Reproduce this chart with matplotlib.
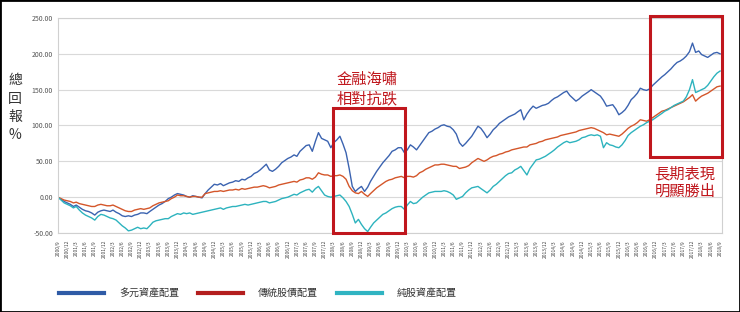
import pandas as pd
import matplotlib
matplotlib.use('Agg')
import matplotlib.pyplot as plt
import matplotlib.dates as mdates
from matplotlib.lines import Line2D
from matplotlib.patches import Rectangle

plt.rcParams['font.family'] = ['Noto Sans CJK TC', 'DejaVu Sans']

# monthly total return (%), 2000/9 .. 2018/9
dates = pd.date_range('2000-09-01', '2018-09-01', freq='MS')

multi = [
    0, -3, -6, -8,                                            # 2000
    -10, -13, -11, -14, -17, -19, -20, -22, -25, -21, -19, -18,  # 2001
    -19, -20, -18, -21, -23, -26, -27, -26, -27, -25, -24, -22,  # 2002
    -22, -23, -20, -17, -14, -11, -9, -6, -2, 0, 3, 5,           # 2003
    4, 3, 1, 0, 2, 1, 0, -1, 5, 10, 14, 18,                      # 2004
    17, 19, 16, 18, 20, 21, 23, 22, 25, 24, 27, 29,              # 2005
    33, 35, 38, 42, 46, 38, 36, 39, 43, 48, 51, 54,              # 2006
    56, 59, 57, 64, 68, 72, 73, 64, 78, 90, 82, 80,              # 2007
    78, 69, 76, 80, 85, 74, 62, 40, 15, 8, 12, 15,               # 2008
    8, 14, 22, 29, 36, 42, 48, 53, 58, 64, 66, 69,               # 2009
    69, 62, 66, 73, 70, 66, 72, 78, 84, 90, 92, 95,              # 2010
    97, 100, 101, 99, 98, 94, 88, 76, 71, 75, 80, 85,            # 2011
    92, 99, 96, 90, 83, 88, 94, 98, 103, 106, 109, 112,          # 2012
    114, 116, 119, 122, 108, 116, 122, 127, 124, 126, 128, 129,  # 2013
    131, 135, 138, 140, 143, 146, 148, 142, 138, 134, 137, 141,  # 2014
    144, 147, 150, 147, 144, 141, 135, 127, 128, 129, 123, 115,  # 2015
    118, 122, 128, 136, 140, 145, 152, 150, 149, 151, 156, 160,  # 2016
    164, 168, 171, 175, 179, 184, 188, 190, 193, 197, 203, 215,  # 2017
    202, 204, 199, 197, 195, 198, 201, 202, 200,                 # 2018
]

balanced = [
    0, -2, -4, -5,
    -6, -8, -7, -9, -10, -11, -12, -13, -13, -11, -10, -11,
    -12, -12, -11, -13, -15, -17, -19, -20, -20, -18, -17, -16,
    -17, -16, -15, -12, -10, -8, -7, -6, -5, -2, 0, 3,
    2, 2, 1, 0, 1, 1, 0, 0, 5, 6, 7, 8,
    8, 9, 8, 9, 10, 10, 11, 10, 12, 11, 12, 13,
    14, 14, 15, 16, 15, 13, 14, 15, 17, 18, 19, 20,
    21, 22, 21, 24, 25, 27, 27, 25, 28, 34, 32, 31,
    31, 29, 30, 30, 31, 29, 25, 15, 9, 6, 5, 8,
    4, 1, 5, 9, 13, 16, 19, 22, 24, 25, 27, 28,
    29, 27, 29, 29, 28, 30, 34, 36, 39, 41, 43, 45,
    45, 46, 46, 45, 44, 43, 43, 40, 41, 42, 44, 48,
    51, 54, 52, 50, 52, 55, 57, 58, 60, 61, 63, 64,
    66, 67, 68, 69, 70, 70, 73, 74, 75, 77, 78, 80,
    81, 82, 83, 84, 86, 87, 88, 89, 90, 91, 93, 94,
    95, 96, 97, 96, 94, 92, 90, 87, 88, 87, 86, 85,
    88, 92, 96, 99, 101, 104, 108, 107, 106, 108, 111, 114,
    117, 120, 121, 123, 125, 127, 129, 131, 133, 136, 139, 143,
    134, 138, 141, 143, 145, 148, 151, 154, 155,
]

equity = [
    0, -4, -8, -10,
    -12, -15, -13, -18, -22, -25, -27, -29, -32, -27, -24, -25,
    -27, -29, -30, -32, -36, -40, -43, -47, -46, -44, -42, -44,
    -43, -44, -40, -35, -33, -32, -31, -30, -30, -27, -25, -23,
    -24, -22, -23, -22, -24, -23, -22, -21, -20, -19, -18, -17,
    -16, -15, -17, -15, -14, -13, -13, -12, -11, -10, -11, -10,
    -9, -8, -7, -6, -6, -8, -7, -6, -4, -2, -1, 0,
    2, 4, 3, 6, 8, 10, 11, 7, 12, 15, 9, 3,
    1, 0, 1, 2, 3, -1, -6, -13, -24, -36, -31, -38,
    -44, -48, -42, -36, -32, -28, -24, -22, -19, -16, -14, -13,
    -13, -17, -11, -6, -9, -8, -4, 0, 3, 6, 7, 8,
    8, 8, 9, 8, 6, 3, -3, -1, 1, 6, 10, 13,
    14, 15, 12, 9, 6, 10, 15, 18, 22, 26, 30, 33,
    34, 38, 40, 43, 37, 31, 40, 46, 52, 53, 55, 57,
    60, 63, 66, 70, 73, 76, 78, 76, 77, 78, 80, 83,
    84, 86, 87, 86, 87, 85, 69, 76, 73, 72, 70, 69,
    73, 79, 86, 90, 93, 96, 99, 101, 104, 106, 108, 111,
    114, 117, 120, 122, 125, 128, 130, 132, 134, 140, 150, 164,
    146, 148, 150, 152, 156, 162, 168, 173, 176,
]

series_names = ['多元資產配置', '傳統股債配置', '純股資產配置']
line_colors = ['#3B63B0', '#D4562A', '#2DB3BE']
legend_colors = ['#2F5BA6', '#B41E1E', '#30B4C2']

tick_dates = pd.date_range('2000-09-01', '2018-09-01', freq='3MS')
tick_labels = [f'{d.year}/{d.month}' for d in tick_dates]
y_ticks = [-50, 0, 50, 100, 150, 200, 250]

box_red = '#C0171D'

fig = plt.figure(figsize=(7.4, 3.12), dpi=100)
ax = fig.add_axes([58/740, 1-233/312, 664/740, 215/312])

for vals, c in zip([multi, balanced, equity], line_colors):
    ax.plot(dates, vals, color=c, lw=1.0)

ax.set_ylim(-50, 250)
ax.set_xlim(dates[0], pd.Timestamp('2018-09-20'))
ax.set_yticks(y_ticks)
ax.set_yticklabels([f'{v:.2f}' for v in y_ticks], fontsize=5, color='#555555')
ax.set_xticks(tick_dates)
ax.set_xticklabels(tick_labels, rotation=90, fontsize=3.5, color='#444444')
ax.tick_params(length=0)
ax.tick_params(axis='y', pad=3.5)
ax.tick_params(axis='x', pad=5)
ax.grid(axis='y', color='#d9d9d9', lw=0.8)
ax.set_axisbelow(True)
for s in ax.spines.values():
    s.set_color('#d0d0d0')
    s.set_linewidth(0.8)

# highlight boxes
x1 = mdates.date2num(pd.Timestamp('2008-02-20'))
x2 = mdates.date2num(pd.Timestamp('2010-02-06'))
ax.add_patch(Rectangle((x1, -50), x2 - x1, 175, fill=False, ec=box_red, lw=2.2, clip_on=False, zorder=5))
x3 = mdates.date2num(pd.Timestamp('2016-10-01'))
x4 = mdates.date2num(pd.Timestamp('2018-09-21'))
ax.add_patch(Rectangle((x3, 56.6), x4 - x3, 196, fill=False, ec=box_red, lw=2.2, clip_on=False, zorder=5))

fig.text(367/740, 1-79/312, '金融海嘯', color=box_red, fontsize=11, ha='center', va='center')
fig.text(367/740, 1-98.5/312, '相對抗跌', color=box_red, fontsize=11, ha='center', va='center')
fig.text(685/740, 1-173.5/312, '長期表現', color=box_red, fontsize=11, ha='center', va='center')
fig.text(685/740, 1-191.5/312, '明顯勝出', color=box_red, fontsize=11, ha='center', va='center')

# vertical y label
for ch, yp in zip(['總', '回', '報', '%'], [80, 98.5, 117, 135]):
    fig.text(15/740, 1-yp/312, ch, fontsize=10, color='#333333', ha='center', va='center')

handles = [Line2D([0], [0], color=c, lw=3) for c in legend_colors]
fig.legend(handles, series_names, loc='center', bbox_to_anchor=(258/740, 1-293/312),
           ncol=3, frameon=False, fontsize=7.2, handlelength=4.5, handletextpad=1.5,
           columnspacing=1.9, labelcolor='#333333')

fig.add_artist(Rectangle((0, 0), 1, 1, transform=fig.transFigure, fill=False, ec='black', lw=2))

fig.savefig('out.png', dpi=100, facecolor='white')
